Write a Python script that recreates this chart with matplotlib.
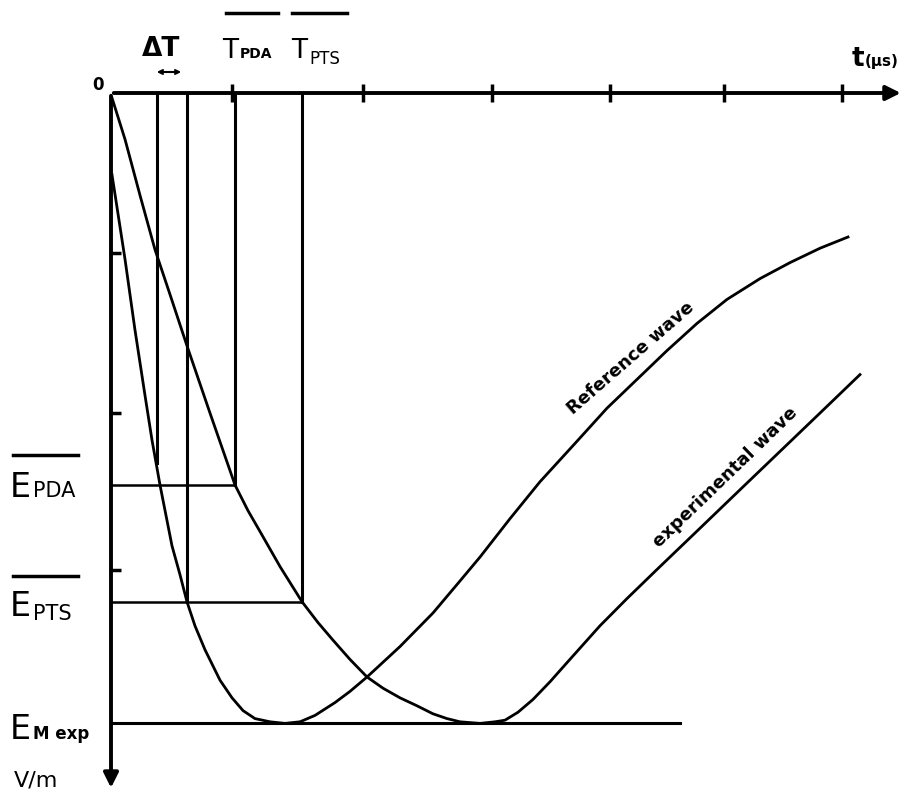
import matplotlib.pyplot as plt
from matplotlib.transforms import Affine2D

# time in tick units (us), field in arbitrary units, E grows downward
ref_t = [0.008, 0.116, 0.198, 0.281, 0.339, 0.405, 0.504, 0.570, 0.628, 0.694, 0.777,
         0.901, 1.000, 1.091, 1.190, 1.314, 1.438, 1.562, 1.686, 1.851, 1.975, 2.116,
         2.388, 2.661, 2.884, 3.050, 3.298, 3.545, 3.835, 4.099, 4.347, 4.595, 4.843,
         5.091, 5.364, 5.612, 5.860, 6.091]
ref_E = [0.51, 1.04, 1.48, 1.89, 2.17, 2.45, 2.83, 3.01, 3.18, 3.33, 3.48,
         3.67, 3.78, 3.86, 3.91, 3.93, 3.94, 3.93, 3.89, 3.81, 3.74, 3.65,
         3.46, 3.25, 3.05, 2.90, 2.66, 2.43, 2.19, 1.97, 1.79, 1.61, 1.44,
         1.29, 1.16, 1.06, 0.97, 0.90]

exp_t = [0.008, 0.116, 0.240, 0.364, 0.488, 0.628, 0.818, 1.025, 1.132, 1.231, 1.397,
         1.579, 1.711, 1.835, 1.975, 2.116, 2.248, 2.388, 2.529, 2.661, 2.777, 2.884,
         3.050, 3.174, 3.256, 3.364, 3.488, 3.628, 3.769, 4.041, 4.264, 4.537, 4.868,
         5.198, 5.529, 5.860, 6.190]
exp_E = [0.03, 0.29, 0.64, 0.98, 1.26, 1.58, 2.00, 2.45, 2.61, 2.74, 2.96,
         3.18, 3.31, 3.42, 3.54, 3.65, 3.72, 3.78, 3.83, 3.88, 3.91, 3.93,
         3.94, 3.93, 3.92, 3.87, 3.79, 3.68, 3.56, 3.33, 3.16, 2.96, 2.72,
         2.48, 2.24, 2.00, 1.76]

E_pda = 2.45
E_pts = 3.18
E_mexp = 3.94
t_dt1 = 0.38
t_dt2 = 0.628
T_pda = 1.025
T_pts = 1.579
t_end_line = 4.70

t_ticks = [1.0, 2.08, 3.15, 4.12, 5.07, 6.04]
E_ticks = [1.0, 2.0, 2.98]

fig = plt.figure(figsize=(9.14, 7.96), dpi=100)
ax = fig.add_axes([0, 0, 1, 1])
ax.set_xlim(-111 / 121, 803 / 121)
ax.set_ylim((796 - 93) / 160, -93 / 160)
ax.axis('off')

# pixel coords for the labels (origin top-left)
px = Affine2D().scale(1 / 914, -1 / 796).translate(0, 1) + fig.transFigure

k = 'black'
# axes with arrows
ax.annotate('', xy=(6.55, 0), xytext=(0, 0),
            arrowprops=dict(arrowstyle='-|>', lw=2.8, color=k, mutation_scale=22))
ax.annotate('', xy=(0, 4.36), xytext=(0, 0),
            arrowprops=dict(arrowstyle='-|>', lw=2.8, color=k, mutation_scale=22))
ax.plot(t_ticks, [0] * len(t_ticks), ls='none', marker='|', ms=13, mew=2.5, color=k)
ax.plot([0.035] * len(E_ticks), E_ticks, ls='none', marker='_', ms=9, mew=2.5, color=k)

# level lines and time markers
ax.plot([0, T_pda], [E_pda, E_pda], color=k, lw=1.8)
ax.plot([0, T_pts], [E_pts, E_pts], color=k, lw=1.8)
ax.plot([0, t_end_line], [E_mexp, E_mexp], color=k, lw=2.2)
ax.plot([t_dt1, t_dt1], [0, 2.31], color=k, lw=2.2)
ax.plot([t_dt2, t_dt2], [0, E_pts], color=k, lw=2.2)
ax.plot([T_pda, T_pda], [0, E_pda], color=k, lw=2.2)
ax.plot([T_pts, T_pts], [0, E_pts], color=k, lw=2.2)

# the two waves
ax.plot(ref_t, ref_E, color=k, lw=2.0, solid_joinstyle='round')
ax.plot(exp_t, exp_E, color=k, lw=2.0, solid_joinstyle='round')

# top labels
ax.text(142, 56, 'ΔT', transform=px, fontsize=19, fontweight='bold', va='baseline')
ax.annotate('', xy=(184, 72), xytext=(154, 72), xycoords=px, textcoords=px,
            arrowprops=dict(arrowstyle='<->', lw=1.5, color=k, mutation_scale=7))
ax.text(222, 58, 'T', transform=px, fontsize=19, va='baseline')
ax.text(240, 58, 'PDA', transform=px, fontsize=10, fontweight='bold', va='baseline')
ax.plot([226, 278], [13, 13], color=k, lw=2.5, transform=px)
ax.text(291, 58, 'T', transform=px, fontsize=19, va='baseline')
ax.text(309, 64, 'PTS', transform=px, fontsize=12, va='baseline')
ax.plot([292, 347], [13, 13], color=k, lw=2.5, transform=px)
ax.text(852, 66, 't', transform=px, fontsize=19, fontweight='bold', va='baseline')
ax.text(865, 66, '(µs)', transform=px, fontsize=11, fontweight='bold', va='baseline')
ax.text(92, 90, '0', transform=px, fontsize=12, fontweight='bold', va='baseline')

# left labels
ax.text(10, 497, 'E', transform=px, fontsize=24, va='baseline')
ax.text(33, 497, 'PDA', transform=px, fontsize=15, va='baseline')
ax.plot([13, 78], [455, 455], color=k, lw=2.5, transform=px)
ax.text(10, 616, 'E', transform=px, fontsize=24, va='baseline')
ax.text(33, 620, 'PTS', transform=px, fontsize=15, va='baseline')
ax.plot([13, 78], [576, 576], color=k, lw=2.5, transform=px)
ax.text(10, 739, 'E', transform=px, fontsize=24, va='baseline')
ax.text(33, 739, 'M exp', transform=px, fontsize=12, fontweight='bold', va='baseline')
ax.text(14, 786, 'V/m', transform=px, fontsize=16, va='baseline')

# curve labels
ax.text(631, 358, 'Reference wave', transform=px, fontsize=13, fontweight='bold',
        rotation=41, ha='center', va='center', rotation_mode='anchor')
ax.text(725, 477, 'experimental wave', transform=px, fontsize=13, fontweight='bold',
        rotation=44, ha='center', va='center', rotation_mode='anchor')

fig.savefig('out.png', dpi=100)
